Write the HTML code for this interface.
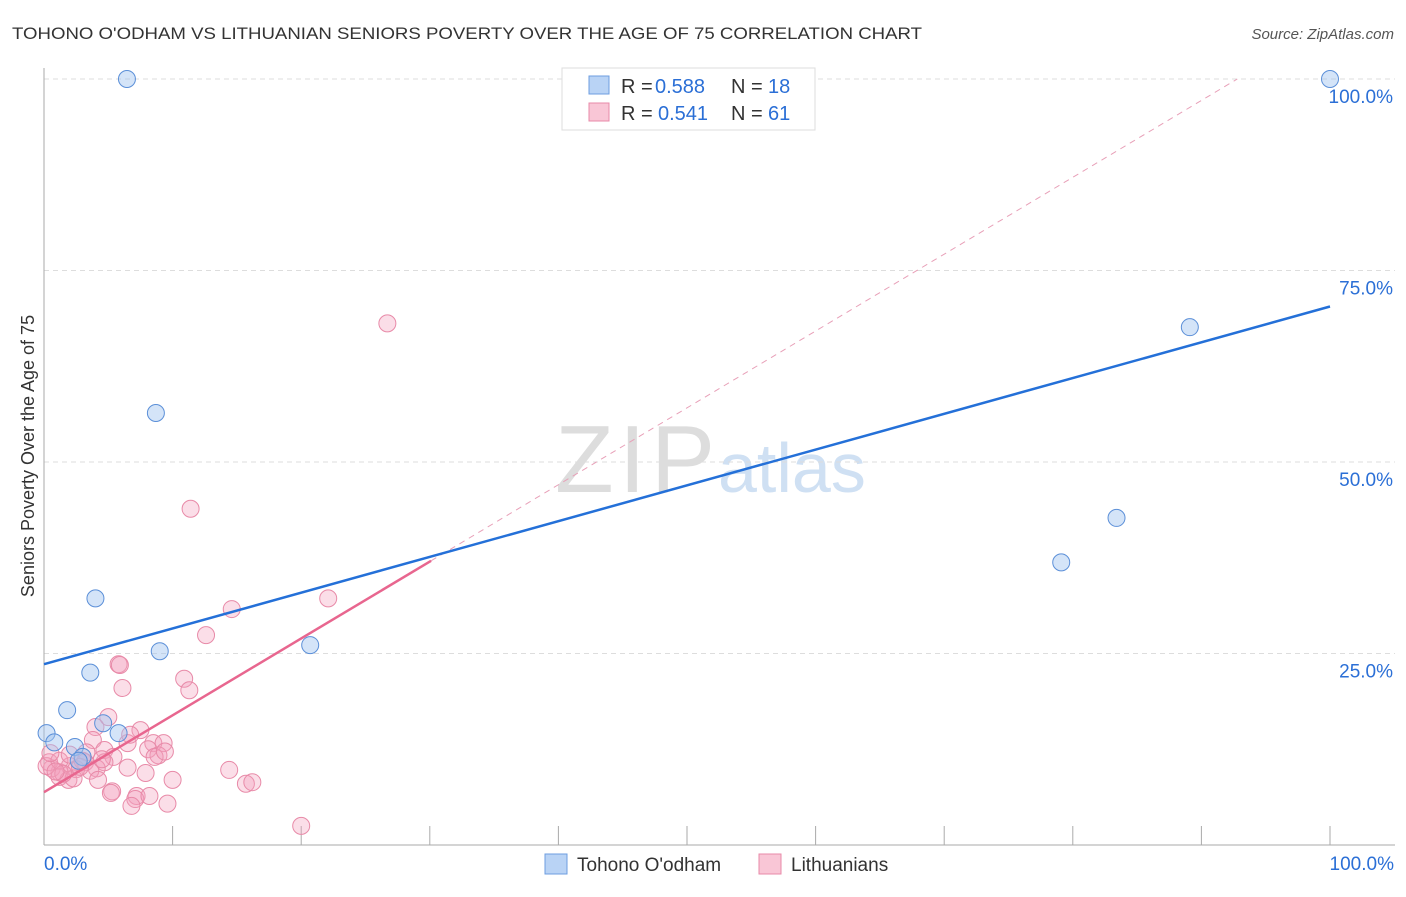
<!DOCTYPE html>
<html><head><meta charset="utf-8"><style>
body{margin:0;background:#fff;font-family:"Liberation Sans",sans-serif;}
svg text{font-family:"Liberation Sans",sans-serif;}
</style></head><body>
<svg width="1406" height="892" xmlns="http://www.w3.org/2000/svg">
<text x="12" y="39" font-size="17" fill="#333" textLength="910" lengthAdjust="spacingAndGlyphs">TOHONO O'ODHAM VS LITHUANIAN SENIORS POVERTY OVER THE AGE OF 75 CORRELATION CHART</text>
<text x="1394" y="39" font-size="15" fill="#555" font-style="italic" text-anchor="end">Source: ZipAtlas.com</text>
<text x="555" y="492" font-size="96" fill="#ddd" font-family="Liberation Serif" textLength="160">ZIP</text>
<text x="718" y="492" font-size="70" fill="#cfe0f3">atlas</text>
<g id="grid"></g>
<g id="axes"></g>
<g id="marks"></g>
<text transform="translate(34,456) rotate(-90)" font-size="18" fill="#333" text-anchor="middle">Seniors Poverty Over the Age of 75</text>
<g>
<rect x="562" y="68" width="253" height="62" fill="#fff" stroke="#ddd"/>
<rect x="589" y="76" width="20" height="18" fill="#b9d3f5" stroke="#6d9ee0"/>
<text x="621" y="93" font-size="20" fill="#333">R =</text>
<text x="655" y="93" font-size="20" fill="#2b6fd6">0.588</text>
<text x="731" y="93" font-size="20" fill="#333">N =</text>
<text x="768" y="93" font-size="20" fill="#2b6fd6">18</text>
<rect x="589" y="103" width="20" height="18" fill="#f9c6d6" stroke="#e88aa8"/>
<text x="621" y="120" font-size="20" fill="#333">R =</text>
<text x="658" y="120" font-size="20" fill="#2b6fd6">0.541</text>
<text x="731" y="120" font-size="20" fill="#333">N =</text>
<text x="768" y="120" font-size="20" fill="#2b6fd6">61</text>
</g>
<g>
<rect x="545" y="854" width="22" height="20" fill="#b9d3f5" stroke="#6d9ee0"/>
<text x="577" y="871" font-size="19" fill="#333">Tohono O'odham</text>
<rect x="759" y="854" width="22" height="20" fill="#f9c6d6" stroke="#e88aa8"/>
<text x="791" y="871" font-size="19" fill="#333">Lithuanians</text>
</g>
</svg>
<script>
const blueX=[6.45,100,89.1,8.7,83.4,79.1,4.0,20.7,9.0,3.6,1.8,0.2,0.8,4.6,2.4,3.0,5.8,2.7];
const blueY=[100,100,67.6,56.4,42.7,36.9,32.2,26.1,25.3,22.5,17.6,14.6,13.4,15.9,12.8,11.5,14.6,11.0];
const pinkX=[26.7,11.4,22.1,14.6,12.6,5.8,5.9,10.9,11.3,6.1,5.0,4.0,7.5,6.5,3.8,8.5,9.3,8.1,8.9,6.7,4.7,3.3,5.4,4.7,3.2,2.0,1.2,0.6,0.4,0.2,1.2,1.9,4.1,3.6,6.5,7.9,4.2,5.3,5.2,7.2,7.1,6.8,8.2,9.6,10.0,14.4,15.7,16.2,20.0,8.6,9.4,1.2,0.5,2.5,2.3,2.0,3.0,1.5,0.9,4.5,2.8];
const pinkY=[68.1,43.9,32.2,30.8,27.4,23.6,23.5,21.7,20.2,20.5,16.7,15.4,15.0,13.3,13.7,13.3,13.3,12.5,11.7,14.4,12.4,12.1,11.5,10.8,10.8,10.3,9.5,10.0,10.8,10.3,8.9,8.5,10.0,9.7,10.1,9.4,8.5,7.0,6.8,6.4,6.0,5.1,6.4,5.4,8.5,9.8,8.0,8.2,2.5,11.5,12.2,11.0,12.0,9.9,8.7,11.8,11.0,9.3,9.6,11.2,10.2];
const blueFit=[23.6,70.3], pinkFit=[6.9,37.1,30.1];
const xTicks=[0,10,20,30,40,50,60,70,80,90,100];
const yTicks=[25,50,75,100];
const NS="http://www.w3.org/2000/svg";
const sx=v=>44+v*12.86, sy=v=>845-v*7.66;
function mk(t,a,p){const e=document.createElementNS(NS,t);for(const k in a)e.setAttribute(k,a[k]);document.getElementById(p).appendChild(e);return e;}
yTicks.forEach(t=>{
 const l=mk('line',{x1:44,x2:1395,y1:sy(t),y2:sy(t),stroke:'#ddd','stroke-dasharray':'5,4'},'grid');
 
 
 const tx=mk('text',{x:1393,y:sy(t)+24,'font-size':19,fill:'#2b6fd6','text-anchor':'end'},'grid');
 tx.textContent=t.toFixed(1)+'%';
 
 
});
mk('line',{x1:44,x2:44,y1:68,y2:845,stroke:'#aaa'},'axes');
mk('line',{x1:44,x2:1395,y1:845,y2:845,stroke:'#aaa'},'axes');
xTicks.forEach(t=>{
 const l=mk('line',{x1:sx(t),x2:sx(t),y1:826,y2:845,stroke:'#aaa'},'axes');
 
 
});
[[0,'0.0%','start',44],[100,'100.0%','end',1394]].forEach(d=>{
 const tx=mk('text',{x:d[3],y:870,'font-size':19,fill:'#2b6fd6','text-anchor':d[2]},'axes');
 tx.textContent=d[1];
 
 
});
pinkX.forEach((x,i)=>{
 const c=mk('circle',{cx:sx(x),cy:sy(pinkY[i]),r:8.5,fill:'rgba(244,160,188,0.35)',stroke:'#e88aa8','stroke-width':1},'marks');
 
 
});
blueX.forEach((x,i)=>{
 const c=mk('circle',{cx:sx(x),cy:sy(blueY[i]),r:8.5,fill:'rgba(160,196,240,0.45)',stroke:'#5b8fd8','stroke-width':1},'marks');
 
 
});
const slope=(pinkFit[1]-pinkFit[0])/pinkFit[2];
const xe=(100-pinkFit[0])/slope;
let d=mk('line',{x1:sx(pinkFit[2]),y1:sy(pinkFit[1]),x2:sx(xe),y2:sy(100),stroke:'#e8a0b8','stroke-dasharray':'6,5'},'marks');


d=mk('line',{x1:sx(0),y1:sy(pinkFit[0]),x2:sx(pinkFit[2]),y2:sy(pinkFit[1]),stroke:'#e8668f','stroke-width':2.5},'marks');


d=mk('line',{x1:sx(0),y1:sy(blueFit[0]),x2:sx(100),y2:sy(blueFit[1]),stroke:'#2470d8','stroke-width':2.5},'marks');


</script>
</body></html>
